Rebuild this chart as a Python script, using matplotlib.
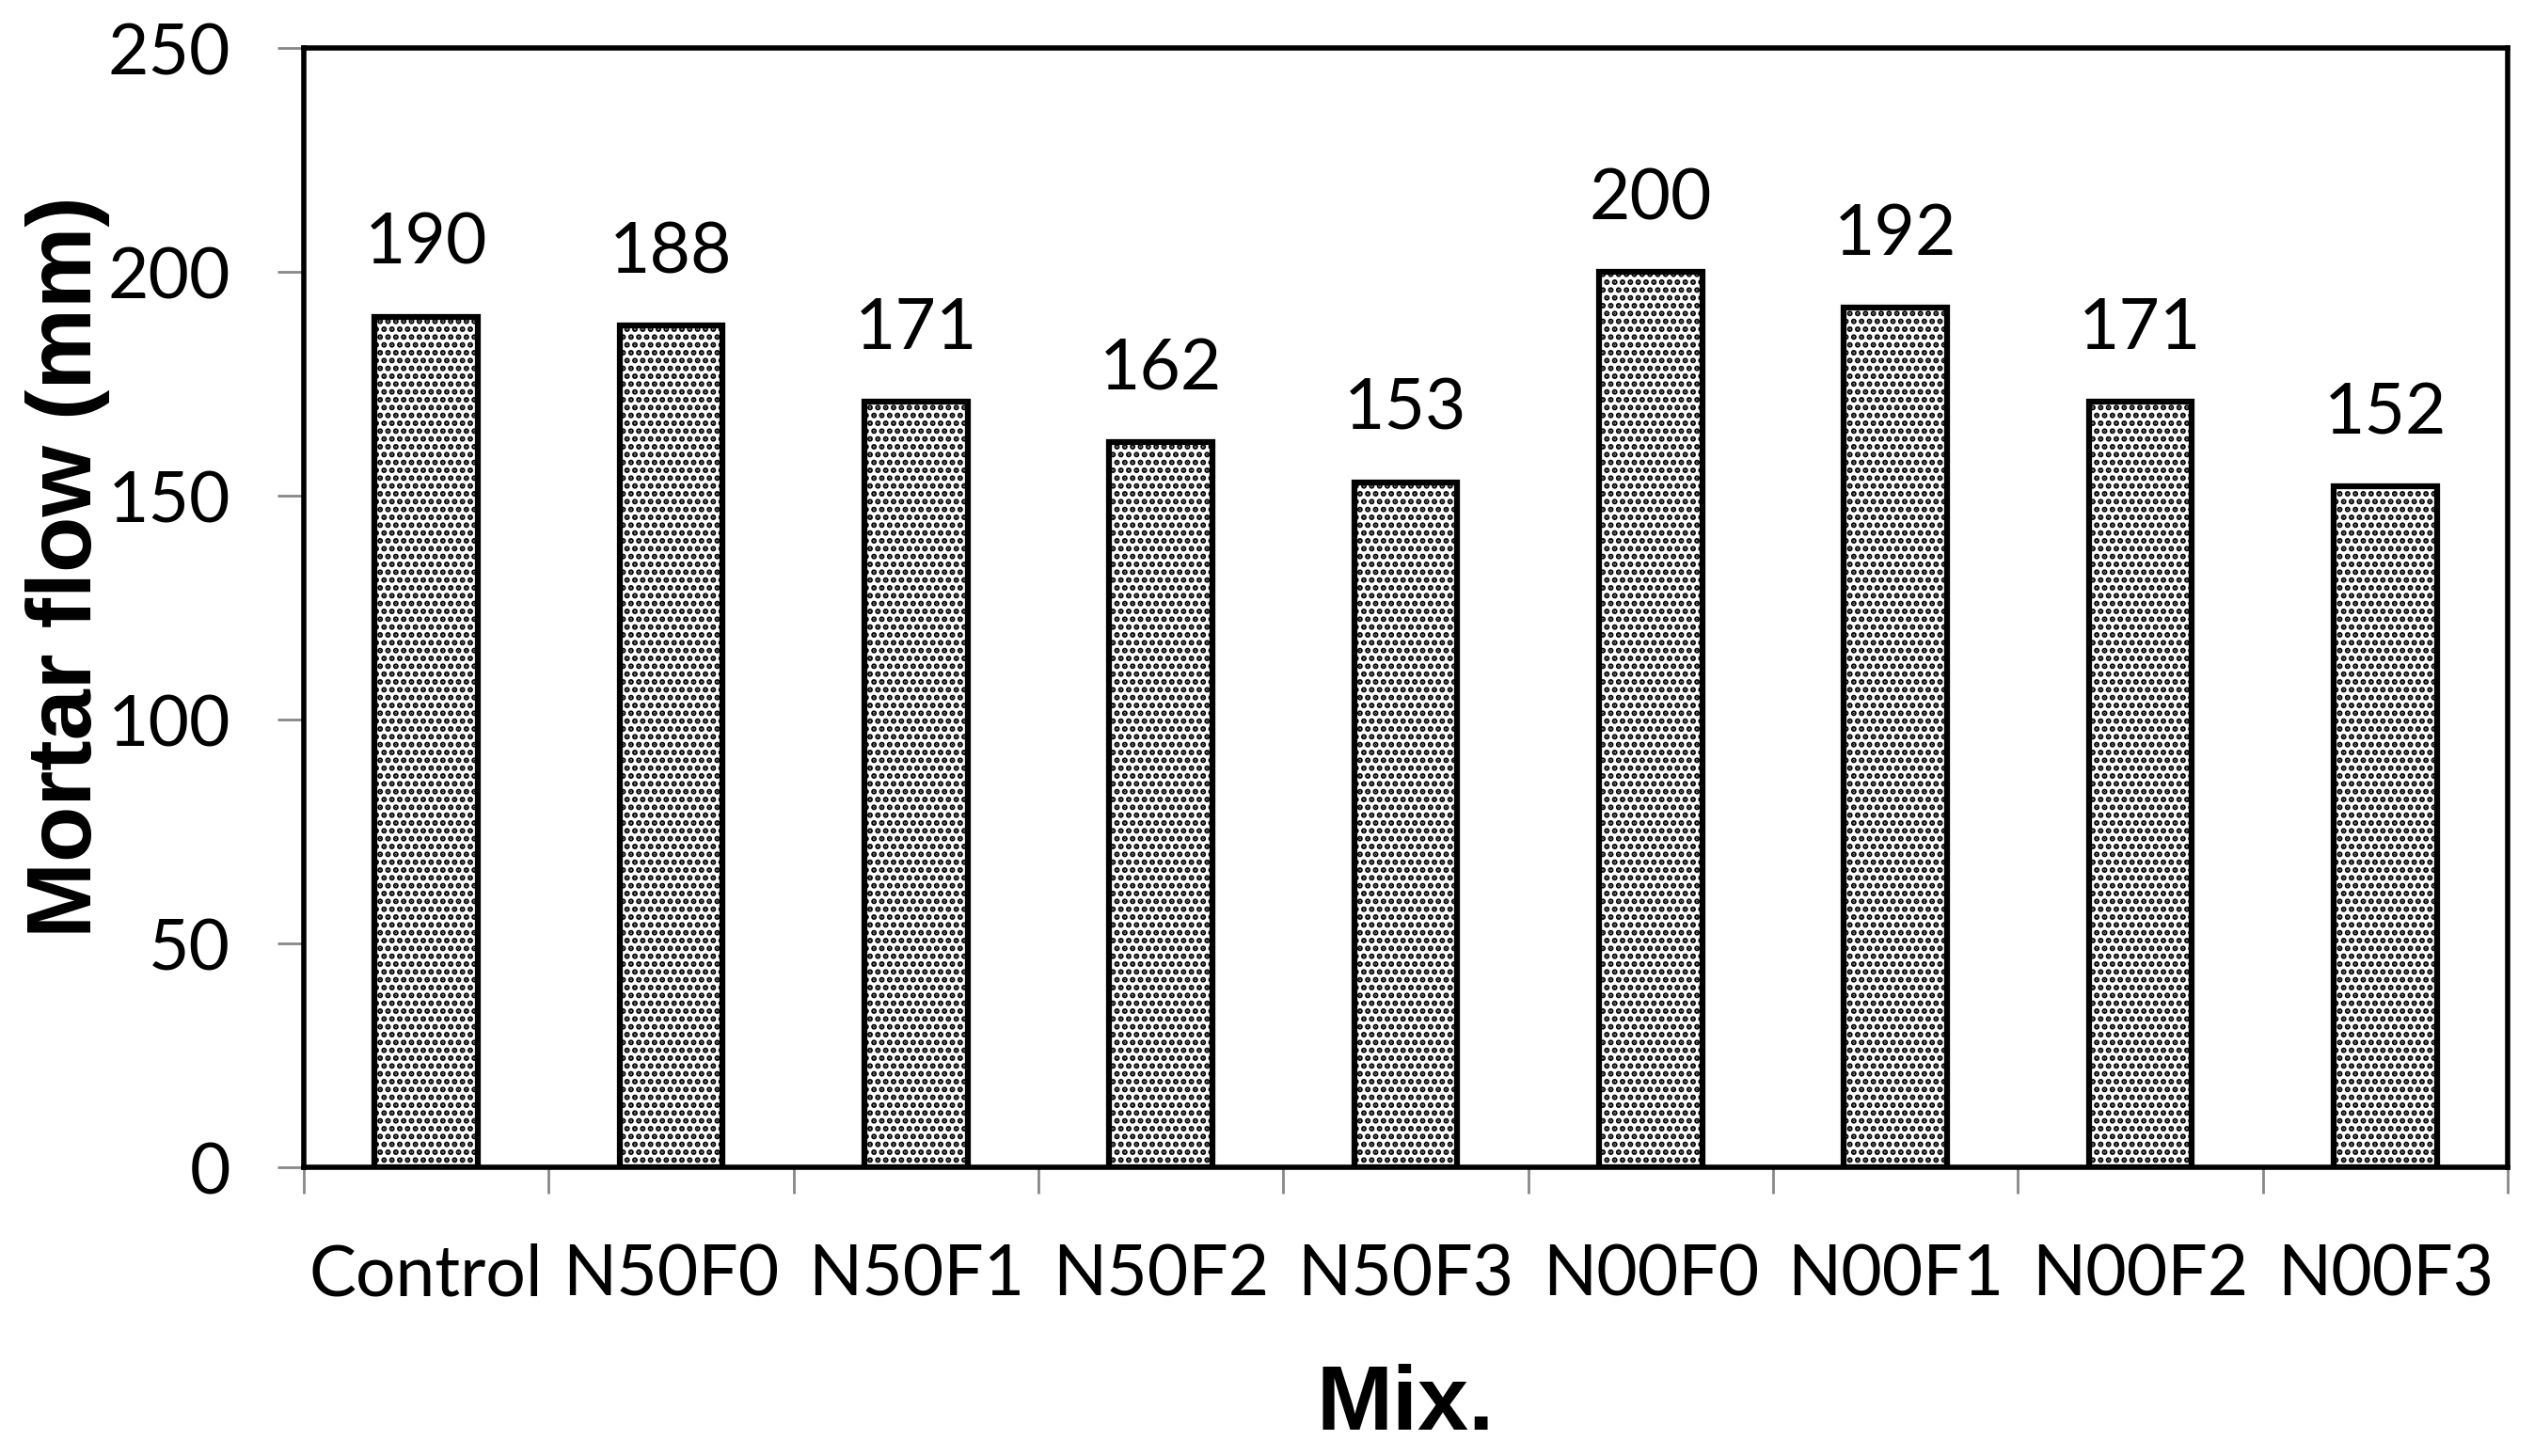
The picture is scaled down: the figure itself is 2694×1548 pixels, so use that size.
import matplotlib
matplotlib.use('Agg')
import matplotlib.pyplot as plt
import numpy as np

# data
mixes = ['Control', 'N50F0', 'N50F1', 'N50F2', 'N50F3',
         'N00F0', 'N00F1', 'N00F2', 'N00F3']
flow = [190, 188, 171, 162, 153, 200, 192, 171, 152]
y_ticks = [0, 50, 100, 150, 200, 250]

plt.rcParams['font.family'] = ['Lato', 'DejaVu Sans']
plt.rcParams['hatch.linewidth'] = 3.0

W, H = 2694, 1548
fig = plt.figure(figsize=(W / 100, H / 100), dpi=100)
ax = fig.add_axes([323 / W, 1 - 1241 / H, (2666 - 323) / W, (1241 - 51) / H])

x = np.arange(len(mixes))
bars = ax.bar(x, flow, width=0.42, color='white', edgecolor='black',
              linewidth=4.5, hatch='..', zorder=3)

for xi, v in zip(x, flow):
    ax.text(xi, v + 9, str(v), ha='center', va='bottom', fontsize=54)

ax.set_xlim(-0.5, len(mixes) - 0.5)
ax.set_ylim(0, 250)
ax.set_yticks(y_ticks)
ax.set_yticklabels([str(t) for t in y_ticks], fontsize=54)
ax.set_xticks(x)
ax.set_xticklabels(mixes, fontsize=54)
ax.tick_params(axis='x', length=0, pad=58)
ax.tick_params(axis='y', length=20, width=2, color='#888888', pad=36)

# boundary ticks between categories
ax.set_xticks(np.arange(-0.5, len(mixes)), minor=True)
ax.tick_params(axis='x', which='minor', length=20, width=2, color='#888888')

for s in ax.spines.values():
    s.set_linewidth(4)
    s.set_color('black')

# axis titles placed on the figure
fig.text(72 / W, 1 - 603 / H, 'Mortar flow (mm)', rotation=90,
         ha='center', va='center', fontsize=70, fontweight='bold',
         family=['Liberation Sans', 'DejaVu Sans'])
fig.text((323 + 2666) / 2 / W, 1 - 1495 / H, 'Mix.',
         ha='center', va='center', fontsize=70, fontweight='bold',
         family=['Liberation Sans', 'DejaVu Sans'])

fig.savefig('out.png', dpi=100)
